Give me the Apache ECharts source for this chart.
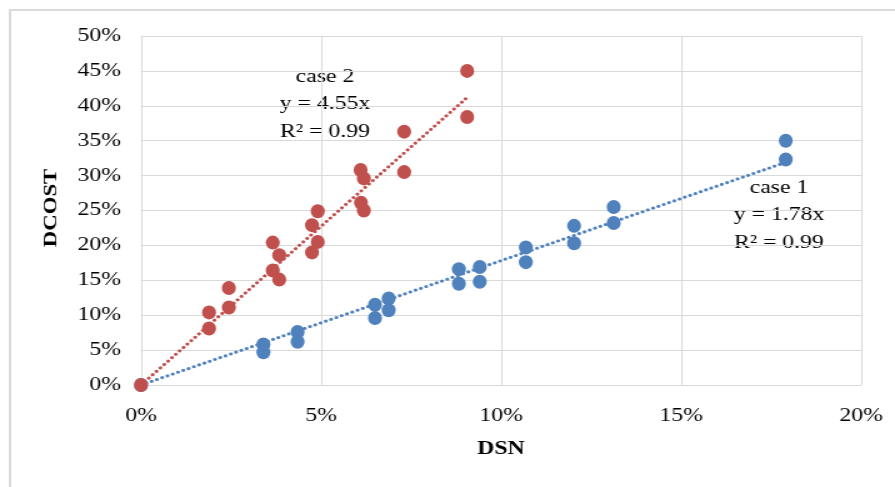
<!DOCTYPE html>
<html><head><meta charset="utf-8">
<script src="https://cdn.jsdelivr.net/npm/echarts@6/dist/echarts.min.js"></script>
<style>html,body{margin:0;padding:0;background:#fff;overflow:hidden;width:895px;height:487px}
#c{width:716px;height:487px;transform:scaleX(1.25);transform-origin:0 0}</style>
</head><body><div id="c"></div>
<script>
// Case 1 (blue) : DSN %, DCOST %
const case1X = [0, 3.40, 3.40, 4.35, 4.35, 6.50, 6.50, 6.88, 6.88, 8.83, 8.83, 9.41, 9.41, 10.69, 10.69, 12.03, 12.03, 13.13, 13.13, 17.91, 17.91];
const case1Y = [0, 5.8, 4.7, 7.6, 6.2, 11.5, 9.6, 12.4, 10.7, 16.6, 14.5, 16.9, 14.8, 19.7, 17.6, 22.8, 20.3, 25.5, 23.2, 35.0, 32.3];
// Case 2 (red)
const case2X = [0, 1.89, 1.89, 2.44, 2.44, 3.66, 3.66, 3.84, 3.84, 4.75, 4.75, 4.91, 4.91, 6.10, 6.19, 6.11, 6.19, 7.31, 7.31, 9.06, 9.06];
const case2Y = [0, 10.4, 8.1, 13.9, 11.1, 20.4, 16.4, 18.6, 15.1, 22.9, 19.0, 24.9, 20.5, 30.8, 29.6, 26.1, 25.0, 36.3, 30.5, 45.0, 38.4];
// Trendline endpoints (through origin)
const trend1X = [0, 17.91], trend1Y = [0, 31.9];
const trend2X = [0, 9.06], trend2Y = [0, 41.2];
const xTicks = [0, 5, 10, 15, 20];
const yTicks = [0, 5, 10, 15, 20, 25, 30, 35, 40, 45, 50];
const label1 = ['case 1', 'y = 1.78x', 'R² = 0.99'];
const label2 = ['case 2', 'y = 4.55x', 'R² = 0.99'];
const xName = 'DSN', yName = 'DCOST';

const zip = (a, b) => a.map((v, i) => [v, b[i]]);
const font = '"Liberation Serif","Times New Roman",serif';
const blue = '#4F81BD', red = '#C0504D';
const SX = 1.25; // horizontal stretch of the whole picture

const chart = echarts.init(document.getElementById('c'));
chart.setOption({
  animation: false,
  grid: { left: 141 / SX, right: 34 / SX, top: 36, bottom: 102 },
  xAxis: {
    type: 'value', min: xTicks[0], max: xTicks[xTicks.length - 1], interval: 5,
    name: xName, nameLocation: 'middle', nameGap: 55,
    nameTextStyle: { fontFamily: font, fontSize: 19, fontWeight: 'bold', color: '#000' },
    axisLine: { show: true, lineStyle: { color: '#D9D9D9', width: 1 } },
    axisTick: { show: false },
    axisLabel: { formatter: v => v + '%', fontFamily: font, fontSize: 19, color: '#000', margin: 22 },
    splitLine: { show: true, lineStyle: { color: '#D9D9D9', width: 1 } }
  },
  yAxis: {
    type: 'value', min: yTicks[0], max: yTicks[yTicks.length - 1], interval: 5,
    axisLine: { show: true, lineStyle: { color: '#D9D9D9', width: 1 } },
    axisTick: { show: false },
    axisLabel: { formatter: v => v + '%', fontFamily: font, fontSize: 19, color: '#000', margin: 16 },
    splitLine: { show: true, lineStyle: { color: '#D9D9D9', width: 1 } }
  },
  series: [
    { type: 'line', data: zip(trend1X, trend1Y), showSymbol: false, symbol: 'none', silent: true,
      lineStyle: { color: blue, width: 3, type: [0.1, 4.5], cap: 'round' }, z: 1 },
    { type: 'line', data: zip(trend2X, trend2Y), showSymbol: false, symbol: 'none', silent: true,
      lineStyle: { color: red, width: 3, type: [0.1, 4.5], cap: 'round' }, z: 1 },
    { type: 'scatter', data: zip(case1X, case1Y), symbolSize: [14 / SX, 14], itemStyle: { color: blue, opacity: 1 }, z: 2 },
    { type: 'scatter', data: zip(case2X, case2Y), symbolSize: [14 / SX, 14], itemStyle: { color: red, opacity: 1 }, z: 3 }
  ],
  graphic: [
    { type: 'rect', shape: { x: 10 / SX, y: 10, width: 900, height: 500 }, style: { fill: 'none', stroke: '#D9D9D9', lineWidth: 2 }, silent: true },
    { type: 'text', x: 51 / SX, y: 208, rotation: Math.PI / 2, scaleX: 1.2, scaleY: 1 / SX,
      style: { text: yName, fontFamily: font, fontSize: 19, fontWeight: 'bold', fill: '#000', align: 'center', verticalAlign: 'middle' } },
    { type: 'text', x: 325 / SX, y: 63, style: { text: label2.join('\n'), fontFamily: font, fontSize: 19, fill: '#000', align: 'center', lineHeight: 27.5 } },
    { type: 'text', x: 779 / SX, y: 174, style: { text: label1.join('\n'), fontFamily: font, fontSize: 19, fill: '#000', align: 'center', lineHeight: 27.5 } }
  ]
});
</script></body></html>
